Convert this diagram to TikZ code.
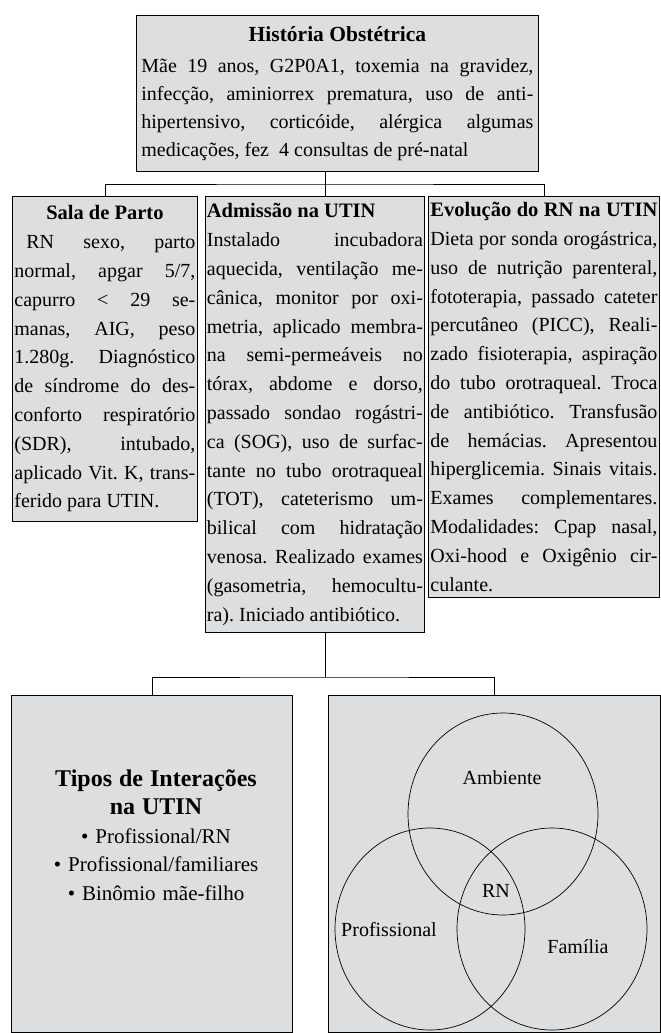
\documentclass[tikz,border=0pt]{standalone}
\usepackage{fontspec}
\setmainfont{Liberation Serif}
\usetikzlibrary{shadows}
\frenchspacing

\definecolor{boxgray}{RGB}{221,222,224}

\newcommand{\boxlines}[2]{\vbox{\hsize=#1\relax#2}}
\newcommand{\fitline}[1]{\par\noindent\hbox to\hsize{\spaceskip=.25em plus 1fil minus .12em\relax#1}\par}
\newcommand{\freeline}[1]{\par\noindent\hbox{#1}\par}
\newcommand{\midline}[1]{\par\noindent\hbox to\hsize{\hfil#1\hfil}\par}
\newcommand{\headleft}[1]{\par\noindent\hbox to\hsize{#1\hfill}\par}
\newcommand{\boxhead}[1]{{\fontsize{20.5}{28.8}\selectfont\bfseries #1}}

\tikzset{
  box/.style={draw, line width=0.8pt, fill=boxgray, anchor=north west, inner ysep=0pt,
    drop shadow={shadow xshift=1pt, shadow yshift=-1pt, fill=black!70, opacity=1},
    font=\fontsize{20}{28.8}\selectfont},
  link/.style={line width=0.8pt},
  ring/.style={line width=0.7pt},
  tag/.style={font=\fontsize{20}{24}\selectfont, inner sep=0pt}
}

\begin{document}
\begin{tikzpicture}[x=1pt,y=-1pt]

  \useasboundingbox (0,0) rectangle (661,1033);

  % boxes
  \node[box, font=\fontsize{20}{28}\selectfont, inner xsep=5pt, minimum width=402pt, minimum height=156pt] (hist) at (136,15) {\boxlines{392pt}{
    \midline{{\fontsize{21.5}{28}\selectfont\bfseries História Obstétrica}}
    \vskip3pt
    \fitline{Mãe 19 anos, G2P0A1, toxemia na gravidez,}
    \fitline{infecção, aminiorrex prematura, uso de anti-}
    \fitline{hipertensivo, corticóide, alérgica algumas}
    \freeline{medicações, fez\ \ 4 consultas de pré-natal}
  }};

  \node[box, inner xsep=2pt, minimum height=325pt] (sala) at (12,196) {\boxlines{181pt}{
    \midline{\boxhead{Sala de Parto}}
    \fitline{\hskip12pt RN sexo, parto}
    \fitline{normal, apgar 5/7,}
    \fitline{capurro \textless{} 29 se-}
    \fitline{manas, AIG, peso}
    \fitline{1.280g. Diagnóstico}
    \fitline{de síndrome do des-}
    \fitline{conforto respiratório}
    \fitline{(SDR), intubado,}
    \fitline{aplicado Vit. K, trans-}
    \freeline{ferido para UTIN.}
  }};

  \node[box, inner xsep=1.5pt, minimum height=436pt] (admis) at (205,196) {\boxlines{216pt}{
    \headleft{\boxhead{Admissão na UTIN}}
    \fitline{Instalado incubadora}
    \fitline{aquecida, ventilação me-}
    \fitline{cânica, monitor por oxi-}
    \fitline{metria, aplicado membra-}
    \fitline{na semi-permeáveis no}
    \fitline{tórax, abdome e dorso,}
    \fitline{passado sondao rogástri-}
    \fitline{ca (SOG), uso de surfac-}
    \fitline{tante no tubo orotraqueal}
    \fitline{(TOT), cateterismo um-}
    \fitline{bilical com hidratação}
    \fitline{venosa. Realizado exames}
    \fitline{(gasometria, hemocultu-}
    \freeline{ra). Iniciado antibiótico.}
  }};

  \node[box, inner xsep=2pt, minimum height=401pt] (evol) at (428,196) {\boxlines{227pt}{
    \fitline{\boxhead{Evolução do RN na UTIN}}
    \fitline{Dieta por sonda orogástrica,}
    \fitline{uso de nutrição parenteral,}
    \fitline{fototerapia, passado cateter}
    \fitline{percutâneo (PICC), Reali-}
    \fitline{zado fisioterapia, aspiração}
    \fitline{do tubo orotraqueal. Troca}
    \fitline{de antibiótico. Transfusão}
    \fitline{de hemácias. Apresentou}
    \fitline{hiperglicemia. Sinais vitais.}
    \fitline{Exames complementares.}
    \fitline{Modalidades: Cpap nasal,}
    \fitline{Oxi-hood e Oxigênio cir-}
    \freeline{culante.}
  }};

  \node[box, minimum width=281pt, minimum height=337pt] (tipos) at (11,695) {};
  \node[box, minimum width=332pt, minimum height=337pt] (venn) at (328,695) {};

  % connectors
  \coordinate (bus1) at (325,184);
  \coordinate (bus2) at (325,677);
  \draw[link] (hist.south -| bus1) -- (admis.north -| bus1);
  \draw[link] (sala.north) |- (bus1) -| (evol.north);
  \draw[link] (admis.south -| bus2) -- (bus2);
  \draw[link] (tipos.north) |- (bus2) -| (venn.north);

  % interactions
  \node[font=\fontsize{21}{28.6}\selectfont, align=center, text width=270pt] (tiposlbl) at (156,835)
    {{\fontsize{24}{30}\selectfont\bfseries Tipos de Interações\\ na UTIN}\\
     \textbullet\ Profissional/RN\\
     \textbullet\ Profissional/familiares\\
     \textbullet\ Binômio mãe-filho};

  % venn
  \draw[ring] (503,814) ellipse [x radius=95, y radius=101];
  \draw[ring] (430,929) ellipse [x radius=95, y radius=101];
  \draw[ring] (552,929) ellipse [x radius=95, y radius=101];
  \node[tag] (amb) at (502,778) {Ambiente};
  \node[tag] (rn) at (496,891) {RN};
  \node[tag] (prof) at (389,930) {Profissional};
  \node[tag] (fam) at (578,947) {Família};

\end{tikzpicture}
\end{document}
